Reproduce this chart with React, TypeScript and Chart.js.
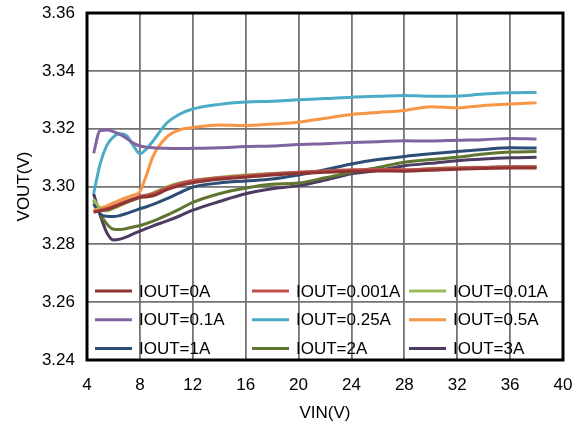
import React, { useEffect, useRef } from "react";
import { Chart, registerables } from "chart.js";

Chart.register(...registerables);

const VIN = [4.5, 5, 5.5, 6, 6.5, 7, 7.5, 8, 8.5, 9, 10, 11, 12, 14, 16, 18, 20, 22, 24, 26, 28, 30, 32, 34, 36, 38];

const IOUT_0A = [3.2911, 3.2915, 3.2920, 3.2928, 3.2937, 3.2946, 3.2955, 3.2962, 3.2964, 3.2968, 3.2988, 3.3003, 3.3013, 3.3025, 3.3032, 3.3040, 3.3045, 3.3049, 3.3053, 3.3054, 3.3053, 3.3056, 3.3060, 3.3062, 3.3064, 3.3064];
const IOUT_0001A = [3.2913, 3.2918, 3.2924, 3.2932, 3.2941, 3.2950, 3.2958, 3.2966, 3.2970, 3.2975, 3.2995, 3.3010, 3.3020, 3.3030, 3.3037, 3.3044, 3.3049, 3.3054, 3.3058, 3.3059, 3.3058, 3.3061, 3.3064, 3.3066, 3.3068, 3.3068];
const IOUT_001A = [3.2955, 3.2925, 3.2915, 3.2924, 3.2934, 3.2944, 3.2953, 3.2962, 3.2970, 3.2978, 3.2998, 3.3012, 3.3020, 3.3032, 3.3040, 3.3045, 3.3049, 3.3053, 3.3056, 3.3056, 3.3056, 3.3062, 3.3065, 3.3067, 3.3069, 3.3068];
const IOUT_01A = [3.3115, 3.3194, 3.3195, 3.3190, 3.3180, 3.3166, 3.3150, 3.3140, 3.3136, 3.3134, 3.3132, 3.3131, 3.3132, 3.3134, 3.3138, 3.3140, 3.3145, 3.3148, 3.3152, 3.3155, 3.3158, 3.3157, 3.3160, 3.3162, 3.3166, 3.3164];
const IOUT_025A = [3.2975, 3.3079, 3.3142, 3.3172, 3.3182, 3.3176, 3.3142, 3.3113, 3.3130, 3.3158, 3.3218, 3.3250, 3.3268, 3.3284, 3.3292, 3.3295, 3.3300, 3.3304, 3.3309, 3.3312, 3.3315, 3.3312, 3.3313, 3.3320, 3.3324, 3.3325];
const IOUT_05A = [3.2917, 3.2925, 3.2933, 3.2943, 3.2953, 3.2962, 3.2970, 3.2982, 3.3040, 3.3105, 3.3170, 3.3196, 3.3204, 3.3213, 3.3211, 3.3216, 3.3222, 3.3236, 3.3249, 3.3256, 3.3263, 3.3276, 3.3272, 3.3280, 3.3285, 3.3290];
const IOUT_1A = [3.2940, 3.2905, 3.2897, 3.2896, 3.2900, 3.2907, 3.2915, 3.2923, 3.2930, 3.2938, 3.2957, 3.2978, 3.2998, 3.3012, 3.3019, 3.3026, 3.3040, 3.3058, 3.3078, 3.3093, 3.3104, 3.3113, 3.3121, 3.3128, 3.3134, 3.3133];
const IOUT_2A = [3.2952, 3.2905, 3.2870, 3.2852, 3.2851, 3.2855, 3.2860, 3.2865, 3.2872, 3.2880, 3.2900, 3.2922, 3.2945, 3.2975, 3.2995, 3.3008, 3.3012, 3.3030, 3.3049, 3.3066, 3.3084, 3.3093, 3.3101, 3.3112, 3.3119, 3.3121];
const IOUT_3A = [3.2975, 3.2900, 3.2840, 3.2815, 3.2818, 3.2826, 3.2836, 3.2846, 3.2855, 3.2864, 3.2880, 3.2898, 3.2918, 3.2948, 3.2975, 3.2992, 3.3003, 3.3022, 3.3044, 3.3055, 3.3072, 3.3080, 3.3089, 3.3095, 3.3099, 3.3101];

const SERIES_LABELS = ["IOUT=0A", "IOUT=0.001A", "IOUT=0.01A", "IOUT=0.1A", "IOUT=0.25A", "IOUT=0.5A", "IOUT=1A", "IOUT=2A", "IOUT=3A"];
const SERIES_VALUES = [IOUT_0A, IOUT_0001A, IOUT_001A, IOUT_01A, IOUT_025A, IOUT_05A, IOUT_1A, IOUT_2A, IOUT_3A];
const SERIES_COLORS = ["#8E3533", "#C0504D", "#9BBB59", "#8064A2", "#4BACC6", "#F79646", "#2C4D75", "#5F7530", "#4D3B62"];

const X_TICKS = [4, 8, 12, 16, 20, 24, 28, 32, 36, 40];
const Y_TICKS = [3.24, 3.26, 3.28, 3.3, 3.32, 3.34, 3.36];

const FONT = "'Liberation Sans', Arial, sans-serif";

const framePlugin = {
  id: "frame",
  afterDraw(chart: any) {
    const { ctx, chartArea } = chart;
    ctx.save();
    ctx.strokeStyle = "#000";
    ctx.lineWidth = 3;
    ctx.strokeRect(chartArea.left, chartArea.top, chartArea.right - chartArea.left, chartArea.bottom - chartArea.top);
    ctx.restore();
  },
};

const legendPlugin = {
  id: "innerLegend",
  afterDatasetsDraw(chart: any) {
    const { ctx, chartArea } = chart;
    ctx.save();
    ctx.font = `17px ${FONT}`;
    ctx.textBaseline = "middle";
    ctx.textAlign = "left";
    chart.data.datasets.forEach((ds: any, i: number) => {
      const col = i % 3;
      const row = Math.floor(i / 3);
      const x0 = chartArea.left + 8 + col * 157;
      const y = chartArea.top + 278 + row * 28.7;
      ctx.strokeStyle = ds.borderColor;
      ctx.lineWidth = 3;
      ctx.beginPath();
      ctx.moveTo(x0, y);
      ctx.lineTo(x0 + 37, y);
      ctx.stroke();
      ctx.fillStyle = "#000";
      ctx.fillText(ds.label, x0 + 44, y + 1);
    });
    ctx.restore();
  },
};

export default function App() {
  const canvasRef = useRef<HTMLCanvasElement | null>(null);

  useEffect(() => {
    const canvas = canvasRef.current;
    if (!canvas) return;
    const chart = new Chart(canvas, {
      type: "line",
      data: {
        datasets: SERIES_LABELS.map((label, i) => ({
          label,
          data: VIN.map((v, j) => ({ x: v, y: SERIES_VALUES[i][j] })),
          borderColor: SERIES_COLORS[i],
          backgroundColor: SERIES_COLORS[i],
          borderWidth: 3,
          pointRadius: 0,
          cubicInterpolationMode: "monotone" as const,
          fill: false,
        })),
      },
      options: {
        responsive: false,
        animation: false,
        layout: { padding: { left: 0, right: 24, top: 13, bottom: 0 } },
        plugins: {
          legend: { display: false },
          tooltip: { enabled: false },
        },
        scales: {
          x: {
            type: "linear",
            min: 4,
            max: 40,
            afterBuildTicks: (scale: any) => {
              scale.ticks = X_TICKS.map((v) => ({ value: v }));
            },
            afterFit: (scale: any) => {
              scale.height = 70;
              scale.paddingLeft = 0;
              scale.paddingRight = 0;
              scale.paddingTop = 0;
              scale.paddingBottom = 0;
            },
            grid: { color: "#737373", lineWidth: 1.8, drawTicks: false },
            border: { display: false },
            ticks: {
              color: "#000",
              font: { family: FONT, size: 17 },
              padding: 15,
              maxRotation: 0,
              callback: (v: any) => String(v),
            },
            title: {
              display: true,
              text: "VIN(V)",
              color: "#000",
              font: { family: FONT, size: 17 },
              padding: { top: 0, bottom: 6 },
            },
          },
          y: {
            type: "linear",
            min: 3.24,
            max: 3.36,
            afterBuildTicks: (scale: any) => {
              scale.ticks = Y_TICKS.map((v) => ({ value: v }));
            },
            afterFit: (scale: any) => {
              scale.width = 87;
              scale.paddingLeft = 0;
              scale.paddingRight = 0;
              scale.paddingTop = 0;
              scale.paddingBottom = 0;
            },
            grid: { color: "#737373", lineWidth: 1.8, drawTicks: false },
            border: { display: false },
            ticks: {
              color: "#000",
              font: { family: FONT, size: 17 },
              padding: 12,
              callback: (v: any) => Number(v).toFixed(2),
            },
            title: {
              display: true,
              text: "VOUT(V)",
              color: "#000",
              font: { family: FONT, size: 17 },
              padding: { top: 14, bottom: 0 },
            },
          },
        },
      },
      plugins: [legendPlugin, framePlugin],
    });
    return () => chart.destroy();
  }, []);

  return (
    <div style={{ position: "absolute", left: 0, top: 0, width: 587, height: 430, background: "#fff" }}>
      <canvas ref={canvasRef} width={587} height={430} style={{ display: "block" }} />
    </div>
  );
}
